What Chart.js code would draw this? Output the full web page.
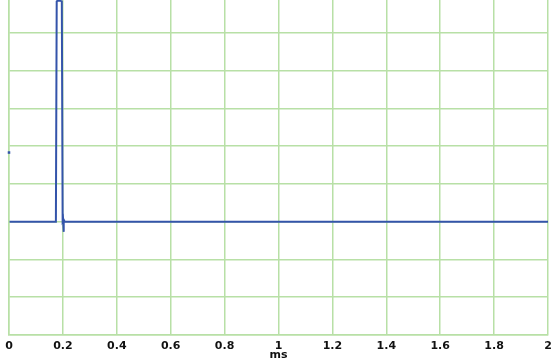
<!DOCTYPE html>
<html>
<head>
<meta charset="utf-8">
<script src="https://cdn.jsdelivr.net/npm/chart.js@4/dist/chart.umd.min.js"></script>
<style>
  html, body { margin: 0; padding: 0; background: #ffffff; overflow: hidden; }
  #wrap { position: absolute; left: 0; top: -20px; width: 555px; height: 381px; }
</style>
</head>
<body>
<div id="wrap"><canvas id="scope" width="555" height="381"></canvas></div>
<script>
// Sampled trace: time in ms, amplitude in grid divisions (0 = baseline)
const timeMs = [0, 0.001, 0.002, 0.05, 0.10, 0.15, 0.174, 0.177, 0.180, 0.190, 0.196, 0.199, 0.2005, 0.202, 0.204, 0.207, 0.5, 1.0, 1.5, 2.0];
const amplitude = [1.83, null, 0, 0, 0, 0, 0, 5.83, 5.85, 5.85, 5.83, 0.05, 0.08, -0.27, 0.04, 0, 0, 0, 0, 0];

// X-axis tick labels (ms)
const tickLabels = ['0', '0.2', '0.4', '0.6', '0.8', '1', '1.2', '1.4', '1.6', '1.8', '2'];
const axisTitle = 'ms';

const gridColor = 'rgb(184,224,166)';
const traceColor = 'rgb(52,84,170)';

const points = timeMs.map((t, i) => ({ x: t, y: amplitude[i] }));

new Chart(document.getElementById('scope'), {
  type: 'line',
  data: {
    datasets: [{
      data: points,
      borderColor: traceColor,
      backgroundColor: traceColor,
      borderWidth: 2,
      spanGaps: false,
      tension: 0,
      pointStyle: 'rect',
      pointRadius: ctx => (ctx.dataIndex === 0 ? 1.8 : 0),
      pointBorderWidth: 0,
      clip: 4
    }]
  },
  options: {
    responsive: false,
    animation: false,
    layout: { padding: { top: 15, left: 9, right: 7, bottom: 0 } },
    plugins: { legend: { display: false }, tooltip: { enabled: false }, title: { display: false } },
    scales: {
      x: {
        type: 'linear',
        min: 0,
        max: 2,
        // edge labels may overhang the plot; the outer padding already leaves room
        afterFit: scale => { scale.paddingLeft = 0; scale.paddingRight = 0; },
        ticks: {
          stepSize: 0.2,
          maxRotation: 0,
          autoSkip: false,
          padding: 6,
          color: '#111111',
          font: { family: 'DejaVu Sans', size: 11, weight: 'bold', lineHeight: 1 },
          callback: (value, index) => tickLabels[index]
        },
        grid: { color: gridColor, lineWidth: 1.5, drawTicks: false },
        border: { color: gridColor, width: 1.5 },
        title: {
          display: true,
          text: axisTitle,
          color: '#111111',
          font: { family: 'DejaVu Sans', size: 11, weight: 'bold', lineHeight: 1 },
          padding: { top: -8, bottom: 0 }
        }
      },
      y: {
        min: -3,
        max: 6,
        ticks: { stepSize: 1, display: false },
        grid: { color: gridColor, lineWidth: 1.5, drawTicks: false },
        border: { color: gridColor, width: 1.5 }
      }
    }
  }
});
</script>
</body>
</html>
